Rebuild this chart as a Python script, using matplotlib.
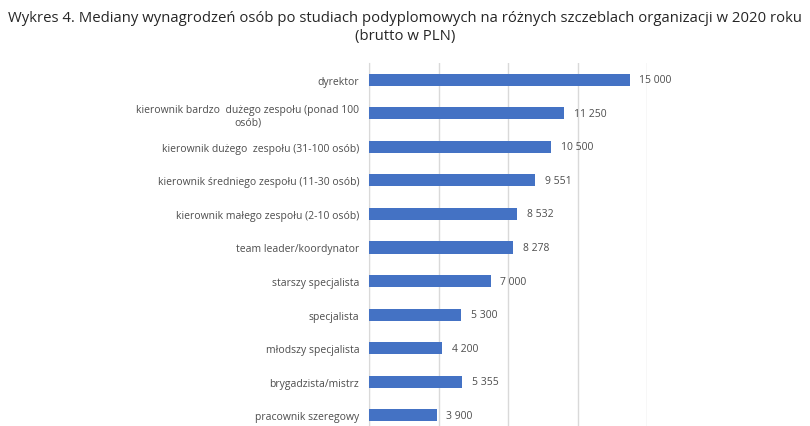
import matplotlib
matplotlib.use('Agg')
import matplotlib.pyplot as plt

categories = ['dyrektor',
              'kierownik bardzo  dużego zespołu (ponad 100\nosób)',
              'kierownik dużego  zespołu (31-100 osób)',
              'kierownik średniego zespołu (11-30 osób)',
              'kierownik małego zespołu (2-10 osób)',
              'team leader/koordynator',
              'starszy specjalista',
              'specjalista',
              'młodszy specjalista',
              'brygadzista/mistrz',
              'pracownik szeregowy']
values = [15000, 11250, 10500, 9551, 8532, 8278, 7000, 5300, 4200, 5355, 3900]
value_labels = ['15 000', '11 250', '10 500', '9 551', '8 532', '8 278',
                '7 000', '5 300', '4 200', '5 355', '3 900']
grid_ticks = [0, 4000, 8000, 12000, 16000]

plt.rcParams['font.family'] = ['Open Sans', 'DejaVu Sans']

fig = plt.figure(figsize=(8.1, 4.27), dpi=100)
ax = fig.add_axes([369 / 810, -6 / 427, (647 - 369) / 810, (433 - 64) / 427])

pos = list(range(len(categories)))
ax.barh(pos, values, height=0.36, color='#4472C4', zorder=3)
ax.set_ylim(len(categories) - 0.5, -0.5)
ax.set_xlim(0, 16000)
ax.set_xticks(grid_ticks)
ax.set_xticklabels([])
ax.tick_params(axis='x', length=0)
ax.tick_params(axis='y', length=0, pad=7, labelsize=7.5, labelcolor='#4d4d4d')
ax.set_yticks(pos)
ax.set_yticklabels(categories, multialignment='center')
ax.grid(axis='x', color='#D9D9D9', linewidth=1, zorder=0)
for s in ['top', 'right', 'bottom']:
    ax.spines[s].set_visible(False)
ax.spines['left'].set_color('#D9D9D9')

for p, v, lab in zip(pos, values, value_labels):
    ax.annotate(lab, (v, p), xytext=(7, 0), textcoords='offset points',
                va='center', ha='left', fontsize=7.5, color='#4d4d4d')

fig.text(0.5, 0.975, 'Wykres 4. Mediany wynagrodzeń osób po studiach podyplomowych na różnych szczeblach organizacji w 2020 roku\n(brutto w PLN)',
         ha='center', va='top', fontsize=10.7, color='#262626', linespacing=1.3)

fig.savefig('out.png', dpi=100)
